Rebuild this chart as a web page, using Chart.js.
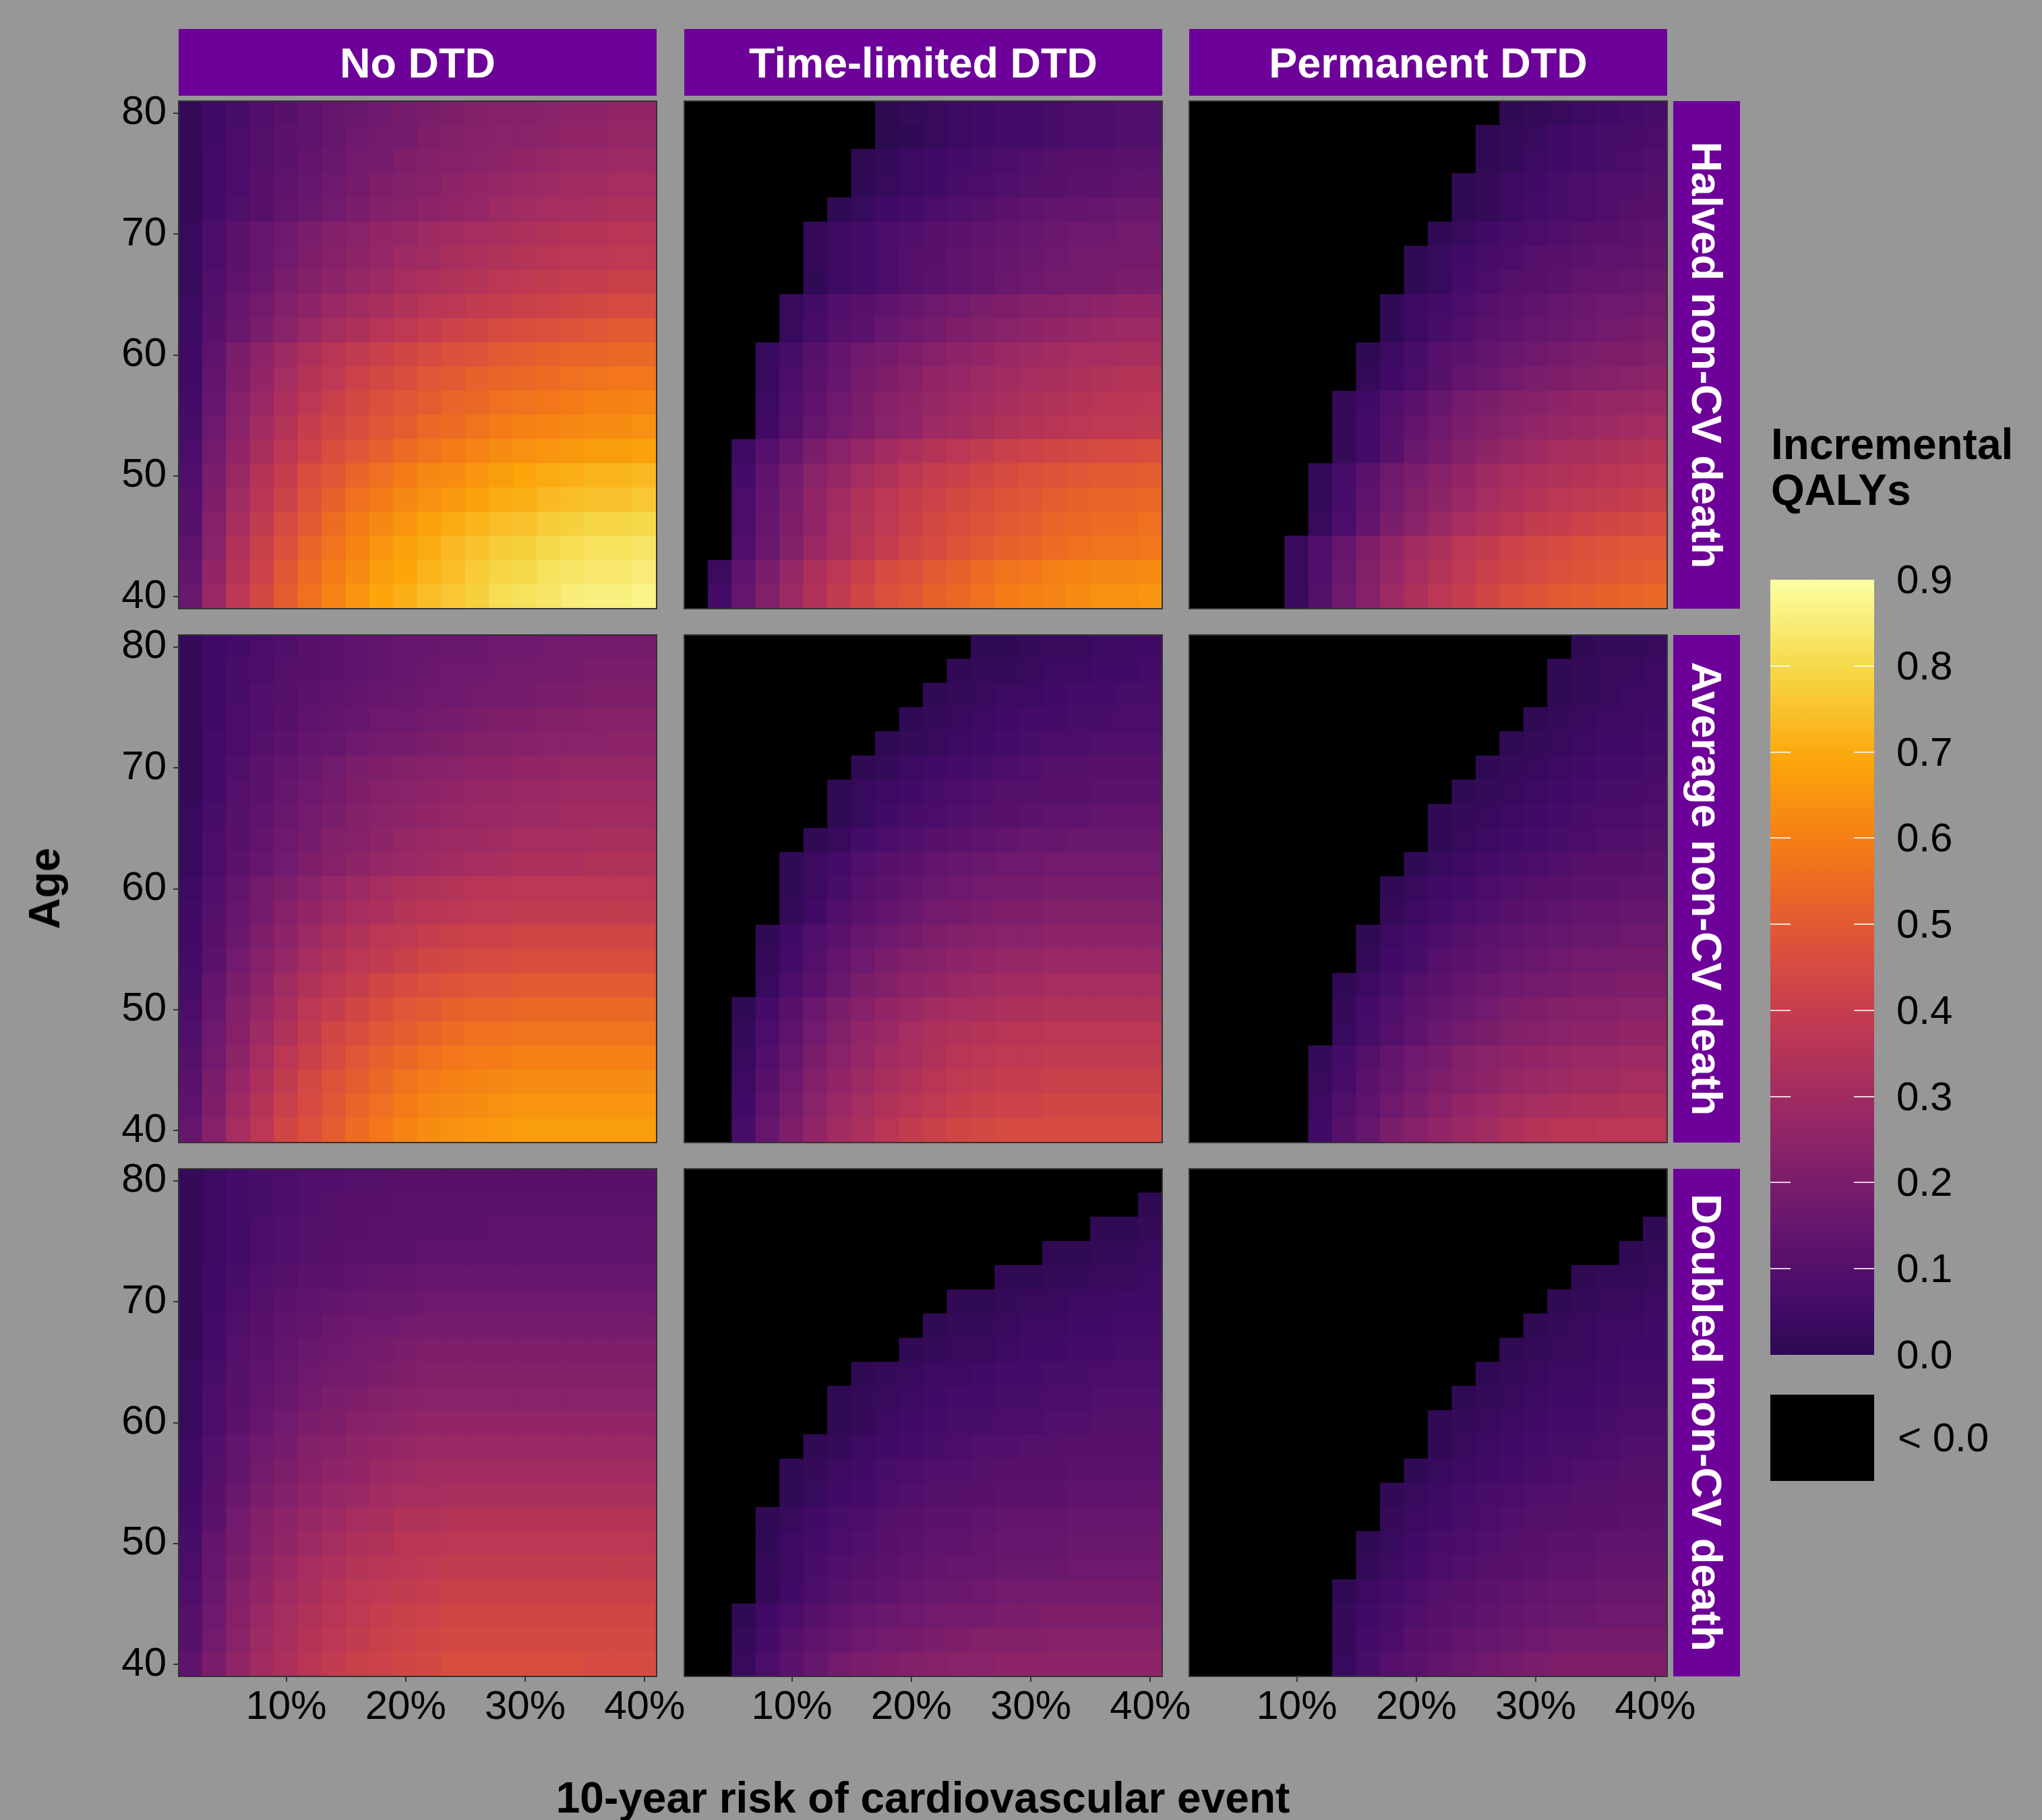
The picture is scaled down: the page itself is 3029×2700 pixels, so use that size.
<!DOCTYPE html>
<html><head><meta charset="utf-8">
<script src="https://cdn.jsdelivr.net/npm/chart.js@4.4.1/dist/chart.umd.min.js"></script>
<style>
html,body{margin:0;padding:0;background:#979797;}
#page{position:relative;width:3029px;height:2700px;overflow:hidden;background:#979797;font-family:'Liberation Sans',Arial,Helvetica,sans-serif;}
#page canvas{position:absolute;}
.strip{position:absolute;background:#6E009A;color:#fff;font-weight:bold;font-size:63px;display:flex;align-items:center;justify-content:center;white-space:nowrap;}
.vstrip{writing-mode:vertical-rl;}
.txt{position:absolute;white-space:nowrap;line-height:1;color:#000;}
</style></head><body><div id="page"></div>
<script>
// ---------- categories / tick labels ----------
const riskPct = [2,4,6,8,10,12,14,16,18,20,22,24,26,28,30,32,34,36,38,40];
const ages = [80,78,76,74,72,70,68,66,64,62,60,58,56,54,52,50,48,46,44,42,40];
const xTickValues = [10,20,30,40];
const yTickValues = [40,50,60,70,80];
const dtdLabels = ['No DTD','Time-limited DTD','Permanent DTD'];
const mortalityLabels = ['Halved non-CV death','Average non-CV death','Doubled non-CV death'];
const legendBreaks = [0.0,0.1,0.2,0.3,0.4,0.5,0.6,0.7,0.8,0.9];
const legendTitle = ['Incremental','QALYs'];
const negativeLabel = '< 0.0';
const xTitle = '10-year risk of cardiovascular event';
const yTitle = 'Age';

// ---------- incremental QALYs (hundredths), rows = ages 80 -> 40, columns = riskPct ----------
const halvedNoDTD = [
[2,5,7,9,11,13,15,16,17,19,20,21,22,23,23,24,25,25,26,26],
[2,5,8,10,12,13,15,17,18,19,21,22,23,24,24,25,26,26,27,27],
[2,6,8,10,12,14,16,18,19,21,22,23,24,25,26,27,28,28,29,29],
[2,6,8,11,13,15,17,19,21,22,23,25,26,27,28,29,30,30,31,31],
[2,6,9,11,14,16,18,20,22,23,25,26,27,29,30,31,31,32,33,33],
[3,8,12,15,17,20,22,24,26,27,29,30,31,32,33,34,35,35,36,36],
[3,8,12,15,18,21,23,25,27,29,30,32,33,34,35,36,37,37,38,38],
[3,9,13,16,20,22,25,27,29,31,33,34,35,37,38,39,40,40,41,41],
[4,10,15,18,22,25,28,30,32,34,36,37,39,40,41,42,43,44,45,45],
[4,11,16,20,24,28,31,33,36,38,40,42,43,45,46,47,48,49,50,50],
[5,13,20,25,29,33,36,39,41,43,45,47,48,50,51,52,53,53,54,54],
[5,14,21,26,31,35,38,42,44,46,49,50,52,53,54,55,56,57,58,58],
[6,15,23,28,33,37,41,44,47,49,51,53,54,56,57,58,59,60,60,61],
[7,17,24,30,35,40,43,46,49,51,54,55,57,59,60,61,62,63,63,64],
[8,18,26,32,37,42,46,49,52,55,57,59,61,63,64,65,66,67,67,68],
[9,20,28,35,40,46,49,53,56,59,62,63,65,67,69,70,71,72,72,73],
[10,21,30,36,42,48,52,56,59,62,64,66,68,70,71,73,74,75,75,76],
[11,23,32,39,45,50,55,59,62,65,68,70,72,74,75,77,78,79,79,80],
[13,24,34,41,47,53,57,61,65,68,70,73,75,77,78,80,81,82,82,83],
[14,26,35,42,49,55,59,63,67,69,72,74,77,79,80,82,83,84,84,85],
[16,28,37,44,51,56,61,65,69,71,74,76,78,81,82,83,85,86,86,87]
];
const halvedTimeLimited = [
[-15,-12,-10,-8,-6,-4,-2,-1,0,2,3,4,5,6,6,7,8,8,9,9],
[-16,-13,-10,-8,-6,-5,-3,-1,0,1,3,4,5,6,6,7,8,8,9,9],
[-15,-11,-9,-7,-5,-3,-1,1,2,4,5,6,7,8,9,10,11,11,12,12],
[-16,-12,-10,-7,-5,-3,-1,1,3,4,5,7,8,9,10,11,12,12,13,13],
[-15,-11,-8,-6,-3,-1,1,3,5,6,8,9,10,12,13,14,14,15,16,16],
[-15,-10,-6,-3,-1,2,4,6,8,9,11,12,13,14,15,16,17,17,18,18],
[-16,-11,-7,-4,-1,2,4,6,8,10,11,13,14,15,16,17,18,18,19,19],
[-18,-12,-8,-5,-1,1,4,6,8,10,12,13,14,16,17,18,19,19,20,20],
[-15,-9,-4,-1,3,6,9,11,13,15,17,18,20,21,22,23,24,25,26,26],
[-17,-10,-5,-1,3,7,10,12,15,17,19,21,22,24,25,26,27,28,29,29],
[-17,-9,-2,3,7,11,14,17,19,21,23,25,26,28,29,30,31,31,32,32],
[-18,-9,-2,3,8,12,15,19,21,23,26,27,29,30,31,32,33,34,35,35],
[-18,-9,-1,4,9,13,17,20,23,25,27,29,30,32,33,34,35,36,36,37],
[-18,-8,-1,5,10,15,18,21,24,26,29,30,32,34,35,36,37,38,38,39],
[-14,-4,4,10,15,20,24,27,30,33,35,37,39,41,42,43,44,45,45,46],
[-13,-2,6,13,18,24,27,31,34,37,40,41,43,45,47,48,49,50,50,51],
[-12,-1,8,14,20,26,30,34,37,40,42,44,46,48,49,51,52,53,53,54],
[-13,-1,8,15,21,26,31,35,38,41,44,46,48,50,51,53,54,55,55,56],
[-12,-1,9,16,22,28,32,36,40,43,45,48,50,52,53,55,56,57,57,58],
[-8,4,13,20,27,33,37,41,45,47,50,52,55,57,58,60,61,62,62,63],
[-6,6,15,22,29,34,39,43,47,49,52,54,56,59,60,61,63,64,64,65]
];
const halvedPermanent = [
[-26,-24,-22,-20,-18,-16,-14,-12,-10,-8,-6,-4,-2,1,2,3,4,5,6,7],
[-24,-22,-20,-18,-16,-14,-12,-10,-8,-6,-4,-2,1,2,3,5,6,7,7,8],
[-24,-22,-20,-18,-16,-14,-12,-10,-8,-6,-4,-2,1,2,4,5,6,7,8,9],
[-22,-20,-18,-16,-14,-12,-10,-8,-6,-4,-2,1,2,4,5,7,8,9,9,10],
[-22,-20,-18,-16,-14,-12,-10,-8,-6,-4,-2,1,2,4,6,7,8,9,10,11],
[-20,-18,-16,-14,-12,-10,-8,-6,-4,-2,1,3,5,7,8,9,10,11,12,13],
[-18,-16,-14,-12,-10,-8,-6,-4,-2,1,3,5,7,8,10,11,12,13,13,14],
[-18,-16,-14,-12,-10,-8,-6,-4,-2,1,3,6,8,10,11,12,14,14,15,16],
[-16,-14,-12,-10,-8,-6,-4,-2,1,4,6,8,10,12,13,15,16,17,17,18],
[-16,-14,-12,-10,-8,-6,-4,-2,1,4,7,9,12,13,15,16,17,18,19,20],
[-14,-12,-10,-8,-6,-4,-2,1,4,7,10,12,14,16,17,19,20,21,21,22],
[-14,-12,-10,-8,-6,-4,-2,2,5,8,11,14,16,18,20,21,22,23,24,25],
[-12,-10,-8,-6,-4,-2,2,5,9,12,15,18,20,22,23,25,26,27,27,28],
[-12,-10,-8,-6,-4,-2,2,6,10,14,17,20,22,24,26,27,28,29,30,31],
[-12,-10,-8,-6,-4,-2,2,6,11,16,19,22,25,27,29,31,32,33,34,35],
[-10,-8,-6,-4,-2,2,7,12,17,20,23,26,29,31,33,34,35,36,37,38],
[-10,-8,-6,-4,-2,2,7,13,18,22,25,28,31,33,35,37,38,39,40,41],
[-10,-8,-6,-4,-2,3,8,14,20,24,28,31,34,36,39,40,42,43,44,45],
[-8,-6,-4,-2,3,9,15,21,26,30,33,37,39,42,44,45,47,48,49,49],
[-8,-6,-4,-2,3,9,16,22,27,31,35,38,41,43,45,47,48,49,50,51],
[-8,-6,-4,-2,3,10,17,23,29,33,37,40,43,46,48,50,51,52,53,54]
];
const averageNoDTD = [
[2,5,6,8,9,11,12,13,14,15,15,16,16,17,17,18,18,19,19,19],
[2,5,7,8,10,11,12,13,14,15,16,17,17,18,18,19,19,20,20,20],
[2,5,7,9,10,12,13,14,15,16,17,17,18,19,19,20,20,21,21,21],
[2,5,8,9,11,13,14,15,17,17,18,19,20,21,21,22,22,23,23,23],
[2,6,8,10,12,14,15,17,18,19,20,21,22,22,23,24,24,24,25,25],
[2,6,9,12,14,16,18,20,21,22,23,24,25,25,26,26,27,27,27,27],
[2,6,10,12,15,17,19,21,23,24,25,26,27,27,28,28,29,29,29,29],
[3,7,11,13,16,18,20,22,24,25,26,27,28,28,29,29,30,30,30,30],
[3,8,11,14,17,19,22,23,25,27,28,29,29,30,31,31,31,32,32,32],
[3,8,12,15,18,21,23,25,27,28,29,30,31,32,33,33,33,34,34,34],
[4,9,14,18,21,24,27,29,31,33,34,35,36,36,37,37,37,37,37,37],
[5,10,15,19,23,26,29,31,33,35,36,37,38,38,39,39,39,39,39,39],
[5,11,16,21,25,29,32,34,37,38,40,41,42,42,43,43,43,43,43,43],
[6,12,18,23,27,31,34,37,39,41,43,44,45,45,46,46,46,46,46,46],
[7,14,20,25,30,34,37,40,43,45,47,48,49,49,50,50,50,50,50,50],
[8,15,22,27,32,37,40,43,46,49,50,52,53,53,54,54,54,54,54,54],
[9,17,23,29,34,39,43,46,49,51,53,55,56,56,57,57,57,57,57,57],
[10,18,25,31,37,41,45,49,52,54,56,58,59,59,60,60,60,60,60,60],
[12,20,27,33,39,44,48,51,54,57,59,60,61,62,63,63,63,63,63,63],
[13,21,29,35,41,45,49,53,56,59,61,62,63,64,65,65,65,65,65,65],
[15,23,31,37,43,47,51,55,58,61,63,64,65,66,67,67,67,67,67,67]
];
const averageTimeLimited = [
[-24,-22,-20,-18,-16,-14,-12,-10,-8,-6,-4,-2,1,1,2,3,3,4,4,5],
[-22,-20,-18,-16,-14,-12,-10,-8,-6,-4,-2,1,2,2,3,4,4,5,5,6],
[-20,-18,-16,-14,-12,-10,-8,-6,-4,-2,1,2,3,4,4,5,6,6,7,7],
[-18,-16,-14,-12,-10,-8,-6,-4,-2,1,2,3,4,5,6,6,7,7,8,8],
[-16,-14,-12,-10,-8,-6,-4,-2,1,2,3,4,5,6,7,8,8,9,9,9],
[-14,-12,-10,-8,-6,-4,-2,1,2,4,5,6,7,8,9,10,10,11,11,11],
[-12,-10,-8,-6,-4,-2,1,3,4,5,7,8,9,10,10,11,11,12,12,12],
[-12,-10,-8,-6,-4,-2,1,3,5,7,8,9,10,11,12,13,13,14,14,14],
[-10,-8,-6,-4,-2,1,3,6,8,9,11,12,13,14,15,15,16,16,16,16],
[-8,-6,-4,-2,1,4,6,9,11,12,14,15,16,17,17,18,18,18,18,18],
[-8,-6,-4,-2,1,4,7,10,12,14,16,17,18,19,19,20,20,20,20,20],
[-8,-6,-4,-2,2,5,9,12,14,16,18,19,20,21,21,22,22,22,22,22],
[-6,-4,-2,1,5,9,12,15,17,19,21,22,23,24,24,25,25,25,25,25],
[-6,-4,-2,2,6,10,14,17,20,22,23,25,26,27,27,28,28,28,28,28],
[-6,-4,-2,3,8,12,16,20,22,25,26,28,29,30,30,31,31,31,31,31],
[-4,-2,1,6,11,16,20,23,26,28,30,31,32,33,33,34,34,34,34,34],
[-4,-2,2,8,13,18,22,26,28,31,33,34,35,36,36,37,37,37,37,37],
[-4,-2,3,9,15,20,24,27,30,32,34,36,37,38,38,39,39,39,39,39],
[-4,-2,4,11,17,22,26,29,32,34,36,38,39,40,40,41,41,41,41,41],
[-4,-2,5,13,19,24,28,31,34,36,38,40,41,42,42,43,43,43,43,43],
[-4,-2,7,15,21,26,30,33,36,39,41,43,44,45,45,45,45,45,45,45]
];
const averagePermanent = [
[-32,-30,-28,-26,-24,-22,-20,-18,-16,-14,-12,-10,-8,-6,-4,-2,1,2,2,3],
[-30,-28,-26,-24,-22,-20,-18,-16,-14,-12,-10,-8,-6,-4,-2,1,2,3,3,4],
[-30,-28,-26,-24,-22,-20,-18,-16,-14,-12,-10,-8,-6,-4,-2,1,2,3,4,4],
[-28,-26,-24,-22,-20,-18,-16,-14,-12,-10,-8,-6,-4,-2,1,2,3,4,4,5],
[-26,-24,-22,-20,-18,-16,-14,-12,-10,-8,-6,-4,-2,1,2,3,4,5,5,6],
[-24,-22,-20,-18,-16,-14,-12,-10,-8,-6,-4,-2,1,2,3,4,5,6,6,7],
[-22,-20,-18,-16,-14,-12,-10,-8,-6,-4,-2,1,2,3,4,5,6,7,7,8],
[-20,-18,-16,-14,-12,-10,-8,-6,-4,-2,1,2,3,4,5,6,7,8,8,9],
[-20,-18,-16,-14,-12,-10,-8,-6,-4,-2,1,3,4,5,6,7,8,9,9,10],
[-18,-16,-14,-12,-10,-8,-6,-4,-2,1,3,4,6,7,8,9,10,11,11,12],
[-16,-14,-12,-10,-8,-6,-4,-2,1,3,5,6,8,9,10,11,12,12,13,13],
[-16,-14,-12,-10,-8,-6,-4,-2,2,4,6,8,9,11,12,13,14,14,15,15],
[-14,-12,-10,-8,-6,-4,-2,1,4,6,8,10,12,13,14,15,16,16,17,17],
[-14,-12,-10,-8,-6,-4,-2,2,5,7,10,12,13,15,16,17,18,18,19,19],
[-12,-10,-8,-6,-4,-2,1,4,7,10,12,14,16,17,18,19,20,20,21,21],
[-12,-10,-8,-6,-4,-2,2,6,9,12,14,16,18,20,21,22,23,23,24,24],
[-12,-10,-8,-6,-4,-2,3,7,10,13,16,18,20,22,23,24,25,25,26,26],
[-10,-8,-6,-4,-2,2,6,10,14,17,19,22,24,25,26,27,28,28,29,29],
[-10,-8,-6,-4,-2,3,7,12,15,18,21,23,25,27,28,29,30,30,31,31],
[-10,-8,-6,-4,-2,4,9,13,17,20,23,26,28,30,31,32,33,33,34,34],
[-10,-8,-6,-4,-2,5,11,15,20,23,26,28,30,33,35,36,36,37,37,37]
];
const doubledNoDTD = [
[2,4,6,7,8,9,9,10,10,11,11,11,11,11,11,11,11,11,11,11],
[2,4,6,7,8,9,10,11,11,12,12,12,12,12,12,12,12,12,12,12],
[2,4,6,8,9,10,10,11,12,12,12,12,12,13,13,13,13,13,13,13],
[2,4,6,8,9,10,11,12,12,12,13,13,13,13,13,13,13,13,13,13],
[2,5,7,9,10,12,12,13,14,14,15,15,15,15,15,15,15,15,15,15],
[2,5,8,10,12,13,14,15,16,16,17,17,17,17,17,17,17,17,17,17],
[2,6,9,11,13,14,16,17,17,18,19,19,19,19,19,19,19,19,19,19],
[2,6,10,12,14,16,17,18,19,20,21,21,21,21,21,21,21,21,21,21],
[3,7,11,13,15,17,18,19,20,21,22,22,22,22,22,22,22,22,22,22],
[3,8,11,14,16,18,20,21,22,23,24,24,24,24,24,24,24,24,24,24],
[3,8,12,15,18,20,21,23,24,25,26,26,26,26,26,26,26,26,26,26],
[4,9,14,17,19,22,23,25,26,27,28,28,28,28,28,28,28,28,28,28],
[4,10,14,18,21,23,25,26,28,29,30,30,30,30,30,30,30,30,30,30],
[5,11,16,20,22,25,27,28,30,31,31,32,32,32,32,32,32,32,32,32],
[6,12,18,22,25,27,29,31,32,34,34,35,35,35,35,35,35,35,35,35],
[7,14,19,23,26,29,31,33,34,36,36,37,37,37,37,37,37,37,37,37],
[8,15,20,25,28,31,33,35,36,37,38,39,39,39,39,39,39,39,39,39],
[9,16,22,26,30,32,35,37,38,39,40,41,41,41,41,41,41,41,41,41],
[10,17,23,28,31,34,36,38,40,41,42,43,43,43,43,43,43,43,43,43],
[11,18,24,29,32,35,37,39,41,42,43,44,44,44,44,44,44,44,44,44],
[13,20,26,30,33,36,39,41,42,43,44,46,46,46,46,46,46,45,45,45]
];
const doubledTimeLimited = [
[-40,-38,-36,-34,-32,-30,-28,-26,-24,-22,-20,-18,-16,-14,-12,-10,-8,-6,-4,-2],
[-38,-36,-34,-32,-30,-28,-26,-24,-22,-20,-18,-16,-14,-12,-10,-8,-6,-4,-2,1],
[-34,-32,-30,-28,-26,-24,-22,-20,-18,-16,-14,-12,-10,-8,-6,-4,-2,1,1,2],
[-30,-28,-26,-24,-22,-20,-18,-16,-14,-12,-10,-8,-6,-4,-2,1,1,2,2,3],
[-26,-24,-22,-20,-18,-16,-14,-12,-10,-8,-6,-4,-2,1,1,2,2,3,3,4],
[-22,-20,-18,-16,-14,-12,-10,-8,-6,-4,-2,1,1,2,3,3,4,4,5,5],
[-20,-18,-16,-14,-12,-10,-8,-6,-4,-2,1,2,2,3,4,4,5,5,6,6],
[-18,-16,-14,-12,-10,-8,-6,-4,-2,1,2,3,3,4,5,5,6,6,7,7],
[-14,-12,-10,-8,-6,-4,-2,1,2,3,4,4,5,6,6,7,7,8,8,8],
[-12,-10,-8,-6,-4,-2,1,2,3,4,5,6,6,7,7,8,8,9,9,9],
[-12,-10,-8,-6,-4,-2,1,2,4,5,6,7,7,8,8,9,9,10,10,10],
[-10,-8,-6,-4,-2,1,2,4,5,6,7,8,9,9,10,10,11,11,11,11],
[-8,-6,-4,-2,1,2,4,5,7,8,9,9,10,11,11,11,12,12,12,12],
[-8,-6,-4,-2,1,3,5,6,8,9,10,10,11,12,12,12,13,13,13,13],
[-6,-4,-2,1,3,5,7,8,10,11,12,12,13,14,14,14,15,15,15,15],
[-6,-4,-2,1,4,6,8,9,11,12,13,13,14,15,15,15,16,16,16,16],
[-6,-4,-2,2,4,7,9,10,12,13,14,15,15,16,16,16,17,17,17,17],
[-6,-4,-2,2,5,8,10,12,13,15,16,16,17,18,18,18,19,19,19,19],
[-4,-2,1,5,8,11,13,15,16,17,18,19,19,20,20,21,21,21,21,21],
[-4,-2,2,6,10,13,15,17,18,19,20,21,22,22,22,23,23,23,23,23],
[-4,-2,3,8,12,15,18,20,21,22,23,24,24,25,25,25,25,25,25,25]
];
const doubledPermanent = [
[-44,-42,-40,-38,-36,-34,-32,-30,-28,-26,-24,-22,-20,-18,-16,-14,-12,-10,-8,-6],
[-40,-38,-36,-34,-32,-30,-28,-26,-24,-22,-20,-18,-16,-14,-12,-10,-8,-6,-4,-2],
[-38,-36,-34,-32,-30,-28,-26,-24,-22,-20,-18,-16,-14,-12,-10,-8,-6,-4,-2,1],
[-36,-34,-32,-30,-28,-26,-24,-22,-20,-18,-16,-14,-12,-10,-8,-6,-4,-2,1,2],
[-32,-30,-28,-26,-24,-22,-20,-18,-16,-14,-12,-10,-8,-6,-4,-2,1,2,2,3],
[-30,-28,-26,-24,-22,-20,-18,-16,-14,-12,-10,-8,-6,-4,-2,1,2,3,3,4],
[-28,-26,-24,-22,-20,-18,-16,-14,-12,-10,-8,-6,-4,-2,1,2,3,4,4,5],
[-26,-24,-22,-20,-18,-16,-14,-12,-10,-8,-6,-4,-2,1,2,3,3,4,5,5],
[-24,-22,-20,-18,-16,-14,-12,-10,-8,-6,-4,-2,1,2,3,4,4,5,6,6],
[-22,-20,-18,-16,-14,-12,-10,-8,-6,-4,-2,1,2,3,4,5,5,6,7,7],
[-20,-18,-16,-14,-12,-10,-8,-6,-4,-2,1,2,3,4,5,6,6,7,8,8],
[-20,-18,-16,-14,-12,-10,-8,-6,-4,-2,1,3,4,5,6,7,7,8,9,9],
[-18,-16,-14,-12,-10,-8,-6,-4,-2,1,3,4,5,6,7,8,9,9,10,10],
[-16,-14,-12,-10,-8,-6,-4,-2,1,3,4,6,7,8,9,9,10,10,11,11],
[-16,-14,-12,-10,-8,-6,-4,-2,2,4,5,7,8,9,10,10,11,11,12,12],
[-14,-12,-10,-8,-6,-4,-2,1,3,5,7,8,9,10,11,12,12,13,13,13],
[-14,-12,-10,-8,-6,-4,-2,2,4,6,8,9,10,11,12,13,13,14,14,14],
[-12,-10,-8,-6,-4,-2,1,4,6,8,10,11,12,13,14,15,15,16,16,16],
[-12,-10,-8,-6,-4,-2,2,5,7,9,11,12,13,14,15,16,16,17,17,17],
[-12,-10,-8,-6,-4,-2,2,6,8,11,12,14,15,16,17,18,18,19,19,19],
[-12,-10,-8,-6,-4,-2,3,7,10,12,14,16,17,19,20,21,21,21,21,21]
];
const panelGrid = [
  [halvedNoDTD, halvedTimeLimited, halvedPermanent],
  [averageNoDTD, averageTimeLimited, averagePermanent],
  [doubledNoDTD, doubledTimeLimited, doubledPermanent]
];

// ---------- colour scale (inferno, begin 0.15) ----------
const INFERNO = ['#000004','#160b39','#420a68','#6a176e','#932667','#bc3754','#dd513a','#f37819','#fca50a','#f6d746','#fcffa4'];
function hexRgb(h){return [parseInt(h.slice(1,3),16),parseInt(h.slice(3,5),16),parseInt(h.slice(5,7),16)];}
const INF_RGB = INFERNO.map(hexRgb);
function inferno(t){
  t = Math.max(0, Math.min(1, t));
  const p = t * (INF_RGB.length - 1);
  const i = Math.min(Math.floor(p), INF_RGB.length - 2);
  const f = p - i;
  const a = INF_RGB[i], b = INF_RGB[i+1];
  return 'rgb(' + [0,1,2].map(k => Math.round(a[k] + (b[k]-a[k])*f)).join(',') + ')';
}
const SCALE_MIN = 0, SCALE_MAX = 0.9, BEGIN = 0.15;
function fillColour(v){
  if (v < 0) return '#000000';
  const u = (Math.min(v, SCALE_MAX) - SCALE_MIN) / (SCALE_MAX - SCALE_MIN);
  return inferno(BEGIN + (1 - BEGIN) * u);
}

// ---------- layout ----------
const page = document.getElementById('page');
const colX = [265, 1015, 1764], rowY = [150, 942, 1734];
const PW = 709, PH = 753;
const M = 90, YW = 200, XH = 110;
const FONT = "'Liberation Sans', Arial, Helvetica, sans-serif";

const panelBorder = {
  id: 'panelBorder',
  afterDatasetsDraw(chart){
    const {ctx, chartArea: a} = chart;
    ctx.save();
    ctx.strokeStyle = '#333333';
    ctx.lineWidth = 2;
    ctx.strokeRect(a.left, a.top, a.right - a.left, a.bottom - a.top);
    ctx.restore();
  }
};

function buildCells(values){
  const cells = [];
  ages.forEach((age, r) => {
    riskPct.forEach((risk, c) => {
      cells.push({x: risk, y: [age - 1, age + 1], v: values[r][c] / 100});
    });
  });
  return cells;
}

for (let r = 0; r < 3; r++) {
  for (let c = 0; c < 3; c++) {
    const showY = c === 0, showX = r === 2;
    const cv = document.createElement('canvas');
    const w = PW + 2*M + (showY ? YW : 0);
    const h = PH + 2*M + (showX ? XH : 0);
    cv.width = w; cv.height = h;
    cv.style.width = w + 'px'; cv.style.height = h + 'px';
    cv.style.left = (colX[c] - M - (showY ? YW : 0)) + 'px';
    cv.style.top = (rowY[r] - M) + 'px';
    page.appendChild(cv);
    new Chart(cv, {
      type: 'bar',
      data: { datasets: [{
        data: buildCells(panelGrid[r][c]),
        backgroundColor: ctx => fillColour(ctx.raw ? ctx.raw.v : 0),
        borderWidth: 0,
        inflateAmount: 0.6,
        barPercentage: 1,
        categoryPercentage: 1
      }]},
      options: {
        responsive: false, animation: false, devicePixelRatio: 1,
        layout: { padding: {left: M, right: M, top: M, bottom: M} },
        plugins: { legend: {display: false}, tooltip: {enabled: false}, title: {display: false} },
        scales: {
          x: {
            type: 'linear', min: 1, max: 41, offset: false, bounds: 'data', display: showX,
            grid: { display: true, drawOnChartArea: false, drawTicks: true, tickLength: 8, color: '#333333', lineWidth: 2, offset: false },
            border: { display: false },
            ticks: { font: {family: FONT, size: 60}, color: '#000000', padding: 2, maxRotation: 0, autoSkip: false,
                     callback: v => v + '%' },
            afterBuildTicks: s => { s.ticks = xTickValues.map(v => ({value: v})); },
            afterFit: s => { s.height = showX ? XH : 0; }
          },
          y: {
            type: 'linear', min: 39, max: 81, bounds: 'data', display: showY,
            grid: { display: true, drawOnChartArea: false, drawTicks: true, tickLength: 8, color: '#333333', lineWidth: 2 },
            border: { display: false },
            ticks: { font: {family: FONT, size: 60}, color: '#000000', padding: 10, autoSkip: false },
            afterBuildTicks: s => { s.ticks = yTickValues.map(v => ({value: v})); },
            afterFit: s => { s.width = showY ? YW : 0; }
          }
        }
      },
      plugins: [panelBorder]
    });
  }
}

// ---------- strips ----------
function addDiv(cls, style, text){
  const d = document.createElement('div');
  d.className = cls;
  Object.assign(d.style, style);
  if (text !== undefined) d.textContent = text;
  page.appendChild(d);
  return d;
}
dtdLabels.forEach((lab, c) => addDiv('strip', {left: colX[c]+'px', top: '43px', width: PW+'px', height: '99px'}, lab));
mortalityLabels.forEach((lab, r) => addDiv('strip vstrip', {left: '2482px', top: rowY[r]+'px', width: '99px', height: PH+'px'}, lab));

// ---------- axis titles ----------
addDiv('txt', {left: '1369px', top: '2667px', transform: 'translate(-50%,-50%)', fontSize: '64px', fontWeight: 'bold'}, xTitle);
addDiv('txt', {left: '66px', top: '1318px', transform: 'translate(-50%,-50%) rotate(-90deg)', fontSize: '64px', fontWeight: 'bold'}, yTitle);

// ---------- legend ----------
const barLeft = 2626, barW = 154, barTop = 860, barH = 1150;
const stops = [];
for (let i = 0; i <= 40; i++) {
  const u = i / 40;
  stops.push(fillColour(SCALE_MIN + u * (SCALE_MAX - SCALE_MIN)) + ' ' + (u*100).toFixed(2) + '%');
}
addDiv('', {position: 'absolute', left: barLeft+'px', top: barTop+'px', width: barW+'px', height: barH+'px',
  background: 'linear-gradient(to top,' + stops.join(',') + ')'});
legendBreaks.forEach(b => {
  const y = barTop + barH - (b - SCALE_MIN) / (SCALE_MAX - SCALE_MIN) * barH;
  if (b > SCALE_MIN && b < SCALE_MAX) {
    addDiv('', {position:'absolute', left: barLeft+'px', top: (y-1)+'px', width: '30px', height: '2px', background: 'rgba(255,255,255,0.8)'});
    addDiv('', {position:'absolute', left: (barLeft+barW-30)+'px', top: (y-1)+'px', width: '30px', height: '2px', background: 'rgba(255,255,255,0.8)'});
  }
  addDiv('txt', {left: '2813px', top: y+'px', transform: 'translateY(-50%)', fontSize: '60px'}, b.toFixed(1));
});
addDiv('', {position:'absolute', left: barLeft+'px', top: '2069px', width: barW+'px', height: '128px', background: '#000000'});
addDiv('txt', {left: '2815px', top: '2133px', transform: 'translateY(-50%)', fontSize: '60px'}, negativeLabel);
addDiv('txt', {left: '2627px', top: '625px', fontSize: '64px', fontWeight: 'bold', lineHeight: '68px'}, legendTitle[0]);
addDiv('txt', {left: '2627px', top: '693px', fontSize: '64px', fontWeight: 'bold', lineHeight: '68px'}, legendTitle[1]);
</script></body></html>
